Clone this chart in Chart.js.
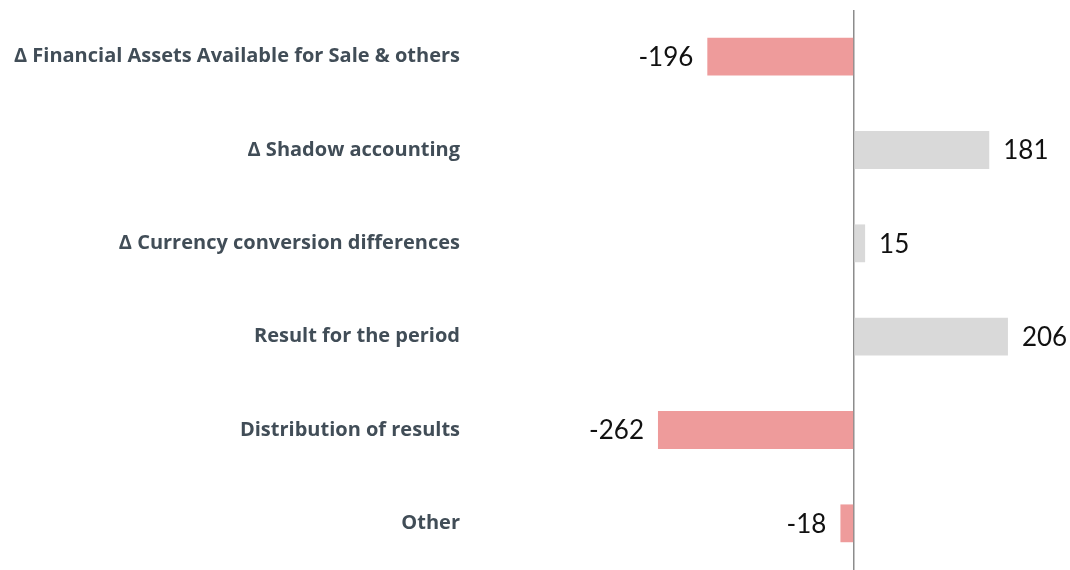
<!DOCTYPE html>
<html>
<head>
<meta charset="utf-8">
<script src="https://cdn.jsdelivr.net/npm/chart.js@4"></script>
<style>
    html, body { margin: 0; padding: 0; background: #fff; }
    #wrap { width: 1070px; height: 570px; }
</style>
</head>
<body>
<div id="wrap"><canvas id="barChart" width="1070" height="570"></canvas></div>
<script>
    const categories = [
        "\u0394 Financial Assets Available for Sale & others",
        "\u0394 Shadow accounting",
        "\u0394 Currency conversion differences",
        "Result for the period",
        "Distribution of results",
        "Other"
    ];
    const values = [-196, 181, 15, 206, -262, -18];

    const COLORS = {
        negative: "#ee9b9b",
        positive: "#d9d9d9",
        zeroLine: "#8c8c8c",
        label: "#414d57"
    };

    // draws the value next to the end of each bar
    const valueLabels = {
        id: "valueLabels",
        afterDatasetsDraw(chart) {
            const ctx = chart.ctx;
            const meta = chart.getDatasetMeta(0);
            ctx.save();
            ctx.font = "26px Lato";
            ctx.fillStyle = "#111";
            ctx.textBaseline = "middle";
            meta.data.forEach((bar, i) => {
                const v = values[i];
                if (v < 0) {
                    ctx.textAlign = "right";
                    ctx.fillText(String(v), bar.x - 14, bar.y + 1);
                } else {
                    ctx.textAlign = "left";
                    ctx.fillText(String(v), bar.x + 14, bar.y + 1);
                }
            });
            ctx.restore();
        }
    };

    new Chart(document.getElementById("barChart"), {
        type: "bar",
        data: {
            labels: categories,
            datasets: [{
                data: values,
                backgroundColor: values.map((v) => v < 0 ? COLORS.negative : COLORS.positive),
                barPercentage: 0.405,
                categoryPercentage: 1
            }]
        },
        options: {
            indexAxis: "y",
            responsive: false,
            animation: false,
            layout: { padding: { top: 10, bottom: 0, left: 0, right: 0 } },
            plugins: {
                legend: { display: false },
                tooltip: { enabled: false }
            },
            scales: {
                x: {
                    min: -500,
                    max: 289,
                    ticks: { display: false, stepSize: 100 },
                    border: { display: false },
                    grid: {
                        drawTicks: false,
                        lineWidth: 1.5,
                        color: (c) => c.tick && c.tick.value === 0 ? COLORS.zeroLine : "transparent"
                    },
                    afterFit(scale) {
                        scale.height = 0;
                    }
                },
                y: {
                    border: { display: false },
                    grid: { display: false, drawTicks: false },
                    ticks: {
                        padding: 20,
                        color: COLORS.label,
                        font: { family: "Open Sans", size: 20, weight: "bold" }
                    },
                    afterFit(scale) {
                        scale.width = 480;
                        scale.paddingTop = 0;
                        scale.paddingBottom = 0;
                    }
                }
            }
        },
        plugins: [valueLabels]
    });
</script>
</body>
</html>
